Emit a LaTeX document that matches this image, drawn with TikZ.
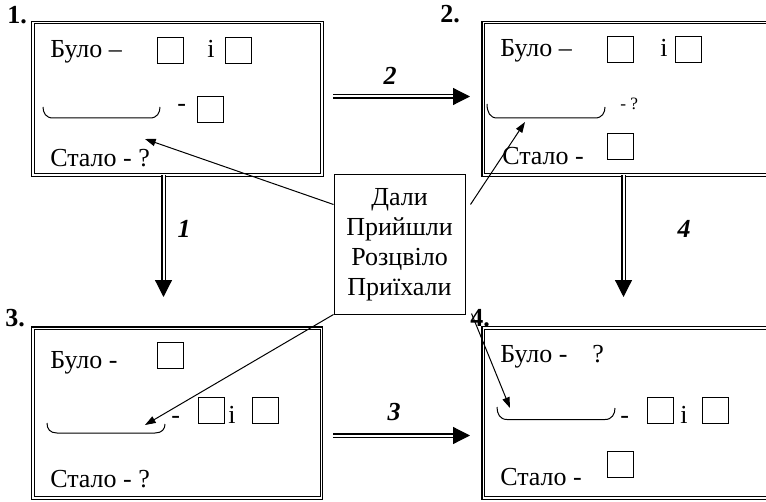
\documentclass[tikz,border=0pt]{standalone}
\usepackage{fontspec}
\setmainfont{Liberation Serif}
\usetikzlibrary{arrows.meta,calc,fit}
\begin{document}
\begin{tikzpicture}[x=0.75pt,y=-0.75pt,
  txt/.style={anchor=base west,inner sep=0pt,font=\fontsize{19.5pt}{22.5pt}\selectfont},
  smalltxt/.style={anchor=base west,inner sep=0pt,font=\fontsize{13pt}{15pt}\selectfont},
  num/.style={anchor=base west,inner sep=0pt,font=\fontsize{19.5pt}{22.5pt}\selectfont\bfseries},
  alab/.style={anchor=base,inner sep=0pt,font=\fontsize{19.5pt}{22.5pt}\selectfont\bfseries\itshape},
  dblbox/.style={draw,double,line width=0.8pt,double distance=1.2pt,inner sep=0pt},
  sq/.style={draw,line width=0.75pt,inner sep=0pt,minimum size=19.5pt},
  bracepath/.style={line width=0.75pt},
  dblarrow/.style={double,line width=0.9pt,double distance=1.5pt,-{Triangle[length=12.75pt,width=12.75pt]}},
  thinarrow/.style={line width=0.75pt,-{Triangle[length=8pt,width=5.5pt]}},
  wordbox/.style={draw,line width=0.75pt,minimum width=98.25pt,minimum height=104.25pt,align=center,font=\fontsize{19.5pt}{22.5pt}\selectfont,inner sep=0pt}
]
\clip (0,0) rectangle (766,502);
\fill[white] (0,0) rectangle (766,502);

% boxes
\coordinate (b1a) at (33,22.5);   \coordinate (b1b) at (322,175);
\coordinate (b2a) at (483.3,22.5); \coordinate (b2b) at (790,175);
\coordinate (b3a) at (33,328.3);  \coordinate (b3b) at (321.5,498);
\coordinate (b4a) at (483.3,328); \coordinate (b4b) at (790,498);
\node[dblbox,fit=(b1a)(b1b)] (box1) {};
\node[dblbox,fit=(b2a)(b2b)] (box2) {};
\node[dblbox,fit=(b3a)(b3b)] (box3) {};
\node[dblbox,fit=(b4a)(b4b)] (box4) {};

% numbers
\node[num] (n1) at (7,24) {1.};
\node[num] (n2) at (440,23) {2.};
\node[num] (n3) at (5,326) {3.};
\node[num] (n4) at (470,326) {4.};

% box 1
\node[txt] (b1bulo) at (50,58) {Було –};
\node[sq] (b1s1) at (170,51) {};
\node[txt] (b1i) at (207,58) {і};
\node[sq] (b1s2) at (238,51) {};
\draw[bracepath] (43,107) .. controls (43,113) and (46,118) .. (53,118) -- (150,118) .. controls (157,118) and (160,113) .. (160,107);
\node[txt] (b1d) at (177,112) {-};
\node[sq] (b1s3) at (210,109.5) {};
\node[txt] (b1stalo) at (50,167) {Стало - ?};

% box 2
\node[txt] (b2bulo) at (500,57) {Було –};
\node[sq] (b2s1) at (620,50) {};
\node[txt] (b2i) at (660,57) {і};
\node[sq] (b2s2) at (688,50) {};
\draw[bracepath] (487,104) .. controls (487,112) and (490,118) .. (497,118) -- (595,118) .. controls (602,118) and (605,113) .. (605,107);
\node[smalltxt] (b2q) at (620,110) {- ?};
\node[txt] (b2stalo) at (502,165) {Стало -};
\node[sq] (b2s3) at (620,146.5) {};

% box 3
\node[txt] (b3bulo) at (50,368) {Було -};
\node[sq] (b3s1) at (170,355) {};
\draw[bracepath] (47,423) .. controls (47,429) and (50,433) .. (57,433) -- (155,433) .. controls (162,433) and (165,429) .. (165,424);
\node[txt] (b3d) at (171,423) {-};
\node[sq] (b3s2) at (211,410) {};
\node[txt] (b3i) at (228,423) {і};
\node[sq] (b3s3) at (265,410) {};
\node[txt] (b3stalo) at (50,487) {Стало - ?};

% box 4
\node[txt] (b4bulo) at (500,362) {Було -};
\node[txt] (b4q) at (592,362) {?};
\draw[bracepath] (497,407) .. controls (497,414) and (500,419.5) .. (507,419.5) -- (605,419.5) .. controls (612,419.5) and (615,414) .. (615,408);
\node[txt] (b4d) at (620,423) {-};
\node[sq] (b4s1) at (660,410) {};
\node[txt] (b4i) at (680,423) {і};
\node[sq] (b4s2) at (715,410) {};
\node[txt] (b4stalo) at (500,485) {Стало -};
\node[sq] (b4s3) at (620,464) {};

% double arrows
\coordinate (a1s) at (163.5,175); \coordinate (a1e) at (163.5,297);
\coordinate (a4s) at (623.5,175); \coordinate (a4e) at (623.5,297);
\coordinate (a2s) at (333,96.5);  \coordinate (a2e) at (470,96.5);
\coordinate (a3s) at (333,435.5); \coordinate (a3e) at (470,435.5);
\draw[dblarrow] (a1s) -- (a1e);
\draw[dblarrow] (a4s) -- (a4e);
\draw[dblarrow] (a2s) -- (a2e);
\draw[dblarrow] (a3s) -- (a3e);
\node[alab] (l1) at (184,237) {1};
\node[alab] (l4) at (684,237) {4};
\node[alab] (l2) at (390,85) {2};
\node[alab] (l3) at (394,420) {3};

% word box
\node[wordbox,fill=white] (wb) at (399.5,244.5) {Дали\\Прийшли\\ Розцвіло\\Приїхали};

% thin arrows
\coordinate (t1) at (145,139);
\coordinate (t2) at (525,122);
\coordinate (t3) at (145,425);
\coordinate (t4) at (510,408);
\draw[thinarrow] ($(wb.north west)+(0,30)$) -- (t1);
\draw[thinarrow] ($(wb.north east)+(5,30)$) -- (t2);
\draw[thinarrow] (wb.south west) -- (t3);
\draw[thinarrow] ($(wb.south east)+(6,-1)$) -- (t4);
\end{tikzpicture}
\end{document}
